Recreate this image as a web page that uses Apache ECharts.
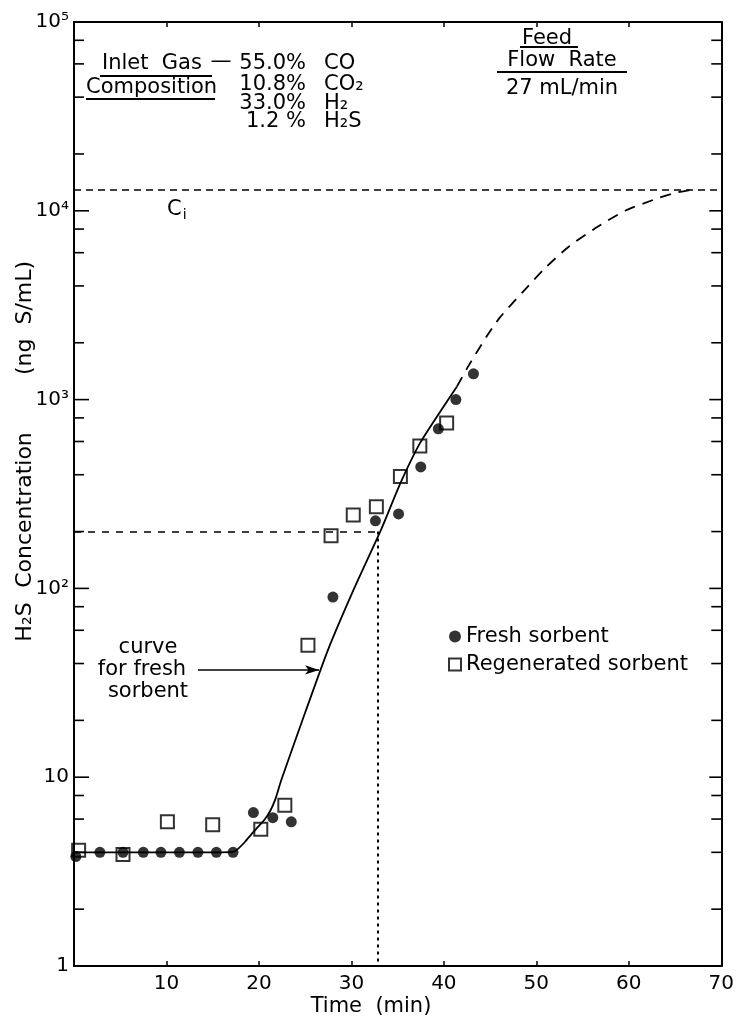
<!DOCTYPE html>
<html>
<head>
<meta charset="utf-8">
<script src="https://cdn.jsdelivr.net/npm/echarts@6/dist/echarts.min.js"></script>
<style>
html,body{margin:0;padding:0;background:#fff;}
#chart{width:737px;height:1022px;}
</style>
</head>
<body>
<div id="chart"></div>
<script>
// ---- data ----
const freshTime = [0.2, 2.8, 5.3, 7.5, 9.4, 11.4, 13.4, 15.4, 17.2, 19.4, 21.5, 23.5, 28.0, 32.6, 35.1, 37.5, 39.4, 41.3, 43.2];
const freshConc = [3.8, 4.0, 4.0, 4.0, 4.0, 4.0, 4.0, 4.0, 4.0, 6.5, 6.1, 5.8, 90, 228, 248, 440, 700, 1000, 1370];
const regenTime = [0.5, 5.3, 10.1, 15.0, 20.2, 22.8, 25.3, 27.8, 30.2, 32.7, 35.3, 37.4, 40.3];
const regenConc = [4.1, 3.9, 5.8, 5.6, 5.3, 7.1, 50, 190, 245, 271, 391, 568, 752];
const curveTime = [0, 5, 10, 15, 17.2, 17.8, 18.5, 19.2, 19.9, 20.6, 21.2, 21.8, 22.4, 25, 27.45, 30.3, 33.2, 35.3, 37.4, 39.6, 41.4];
const curveConc = [4.0, 4.0, 4.0, 4.0, 4.02, 4.2, 4.55, 5.0, 5.45, 5.95, 6.6, 7.7, 9.6, 22, 47, 100, 204, 361, 586, 863, 1170];
const curveExtTime = [41.4, 42.6, 44.6, 46, 48.5, 51, 53.5, 56.4, 59.6, 62.8, 64.9, 67];
const curveExtConc = [1170, 1490, 2150, 2700, 3700, 5000, 6450, 8100, 10000, 11500, 12400, 13000];
const inletConc = 13000;          // C_i
const breakTime = 32.8;           // breakthrough time
const breakConc = 200;            // breakthrough concentration
const arrowFrom = [13.4, 37];     // label arrow start (time, conc)
const arrowTo = [26.5, 37];       // arrow tip on the curve
const yTickLabels = ['1', '10', '10²', '10³', '10⁴', '10⁵'];
const xTickLabels = ['', '10', '20', '30', '40', '50', '60', '70'];
const seriesNames = ['Fresh sorbent', 'Regenerated sorbent'];

const FONT = 'DejaVu Sans';
const pair = (xs, ys) => xs.map((x, i) => [x, ys[i]]);

// axis tick marks (major + minor) for the log axis, drawn through the scale
const tickData = [];
for (let k = 0; k <= 5; k++) {
  tickData.push([0, Math.pow(10, k), 1]);
  if (k < 5) [2, 4, 6, 8].forEach(m => tickData.push([0, m * Math.pow(10, k), 0]));
}

const chart = echarts.init(document.getElementById('chart'), null, {renderer: 'canvas'});

function txt(text, x, y, size, align, extra) {
  return Object.assign({
    type: 'text', x: x, y: y, silent: true,
    style: {text: text, fontSize: size, fontFamily: FONT, fill: '#000',
            textAlign: align || 'left', textVerticalAlign: 'middle',
            align: align || 'left', verticalAlign: 'middle'}
  }, extra || {});
}
function uline(x1, x2, y) {
  return {type: 'line', silent: true, shape: {x1: x1, y1: y, x2: x2, y2: y},
          style: {stroke: '#000', lineWidth: 1.8}};
}

const option = {
  animation: false,
  backgroundColor: '#fff',
  grid: {left: 74, right: 10, top: 22, bottom: 56, show: false},
  xAxis: [{
    type: 'value', min: 0, max: 70, interval: 10,
    axisLine: {show: true, onZero: false, lineStyle: {color: '#000', width: 2}},
    axisTick: {show: true, inside: true, length: 5, lineStyle: {color: '#000', width: 1.5}},
    axisLabel: {fontSize: 20, fontFamily: FONT, color: '#000', margin: 8,
                formatter: v => xTickLabels[Math.round(v / 10)]},
    splitLine: {show: false}
  }, {
    type: 'value', min: 0, max: 70, interval: 10, position: 'top',
    axisLine: {show: true, onZero: false, lineStyle: {color: '#000', width: 2}},
    axisTick: {show: true, inside: true, length: 5, lineStyle: {color: '#000', width: 1.5}},
    axisLabel: {show: false}, splitLine: {show: false}
  }],
  yAxis: [{
    type: 'log', logBase: 10, min: 1, max: 100000,
    axisLine: {show: true, onZero: false, lineStyle: {color: '#000', width: 2}},
    axisTick: {show: false},
    axisLabel: {fontSize: 20, fontFamily: FONT, color: '#000', margin: 5,
                formatter: v => yTickLabels[Math.round(Math.log10(v))]},
    splitLine: {show: false}
  }, {
    type: 'log', logBase: 10, min: 1, max: 100000, position: 'right',
    axisLine: {show: true, onZero: false, lineStyle: {color: '#000', width: 2}},
    axisTick: {show: false}, axisLabel: {show: false}, splitLine: {show: false}
  }],
  legend: {
    orient: 'vertical', left: 443, top: 621, itemWidth: 12, itemHeight: 12, itemGap: 7,
    textStyle: {fontSize: 21, fontFamily: FONT, color: '#000'},
    data: [
      {name: seriesNames[0], icon: 'circle'},
      {name: seriesNames[1], icon: 'rect', itemStyle: {color: 'rgba(0,0,0,0)', borderColor: '#000', borderWidth: 2}}
    ]
  },
  series: [
    {
      type: 'custom', name: 'ticks', silent: true, clip: false, z: 5,
      data: tickData,
      renderItem: function (params, api) {
        const v = api.value(1), major = api.value(2);
        const l = api.coord([0, v]);
        const r = api.coord([70, v]);
        const ll = major ? 15 : 10, rl = major ? 12 : 10;
        return {type: 'group', children: [
          {type: 'line', shape: {x1: l[0], y1: l[1], x2: l[0] + ll, y2: l[1]}, style: {stroke: '#000', lineWidth: 1.6}},
          {type: 'line', shape: {x1: r[0], y1: r[1], x2: r[0] - rl, y2: r[1]}, style: {stroke: '#000', lineWidth: 1.6}}
        ]};
      }
    },
    {
      type: 'line', name: 'curve', data: pair(curveTime, curveConc),
      showSymbol: false, symbol: 'none', smooth: 0.2,
      lineStyle: {color: '#000', width: 1.8}, z: 3, silent: true,
      markLine: {
        silent: true, symbol: 'none', label: {show: false}, animation: false,
        data: [
          [{coord: [0, inletConc], lineStyle: {type: [7, 5], width: 1.6, color: '#000'}},
           {coord: [70, inletConc]}],
          [{coord: [0, breakConc], lineStyle: {type: [7, 7], width: 1.6, color: '#000'}},
           {coord: [breakTime, breakConc]}],
          [{coord: [breakTime, breakConc], lineStyle: {type: [3, 4], width: 2, color: '#000'}},
           {coord: [breakTime, 1]}],
          [{coord: arrowFrom, symbol: 'none', lineStyle: {type: 'solid', width: 1.6, color: '#000'}},
           {coord: arrowTo, symbol: 'arrow', symbolSize: [7, 14]}]
        ]
      }
    },
    {
      type: 'line', name: 'curveExt', data: pair(curveExtTime, curveExtConc),
      showSymbol: false, symbol: 'none', smooth: 0.25,
      lineStyle: {color: '#000', width: 1.8, type: [11, 8]}, z: 3, silent: true
    },
    {
      type: 'scatter', name: seriesNames[0], data: pair(freshTime, freshConc),
      symbol: 'circle', symbolSize: 11, itemStyle: {color: '#000'}, z: 4
    },
    {
      type: 'scatter', name: seriesNames[1], data: pair(regenTime, regenConc),
      symbol: 'rect', symbolSize: 13,
      itemStyle: {color: 'rgba(0,0,0,0)', borderColor: '#000', borderWidth: 2}, z: 4
    }
  ],
  graphic: [
    // inlet gas composition block
    txt('Inlet  Gas', 102, 64, 21, 'left'),
    uline(100, 212, 76),
    txt('Composition', 86, 88, 21, 'left'),
    uline(86, 215, 99),
    txt('—', 221, 62, 21, 'center'),
    txt('55.0%', 306, 64, 21, 'right'),
    txt('10.8%', 306, 85, 21, 'right'),
    txt('33.0%', 306, 104, 21, 'right'),
    txt('1.2 %', 306, 122, 21, 'right'),
    txt('CO', 324, 64, 21, 'left'),
    txt('CO₂', 324, 85, 21, 'left'),
    txt('H₂', 324, 104, 21, 'left'),
    txt('H₂S', 324, 122, 21, 'left'),
    // feed flow rate block
    txt('Feed', 547, 39, 21, 'center'),
    uline(520, 578, 47),
    txt('Flow  Rate', 562, 61, 21, 'center'),
    uline(497, 627, 72),
    txt('27 mL/min', 562, 89, 21, 'center'),
    // C_i label
    {type: 'text', x: 167, y: 210, silent: true,
     style: {text: '{c|C}{i|i}', fontFamily: FONT, fill: '#000',
             textVerticalAlign: 'middle', verticalAlign: 'middle',
             rich: {c: {fontSize: 21, fontFamily: FONT}, i: {fontSize: 14, fontFamily: FONT, padding: [10, 0, 0, 1]}}}},
    // curve label
    txt('curve', 148, 648, 21, 'center'),
    txt('for fresh', 142, 670, 21, 'center'),
    txt('sorbent', 148, 692, 21, 'center'),
    // axis titles
    txt('Time  (min)', 371, 1007, 21, 'center'),
    txt('H₂S', 25, 622, 22, 'center', {rotation: Math.PI / 2}),
    txt('Concentration', 25, 510, 22, 'center', {rotation: Math.PI / 2}),
    txt('(ng  S/mL)', 25, 318, 22, 'center', {rotation: Math.PI / 2})
  ]
};
chart.setOption(option);
</script>
</body>
</html>
